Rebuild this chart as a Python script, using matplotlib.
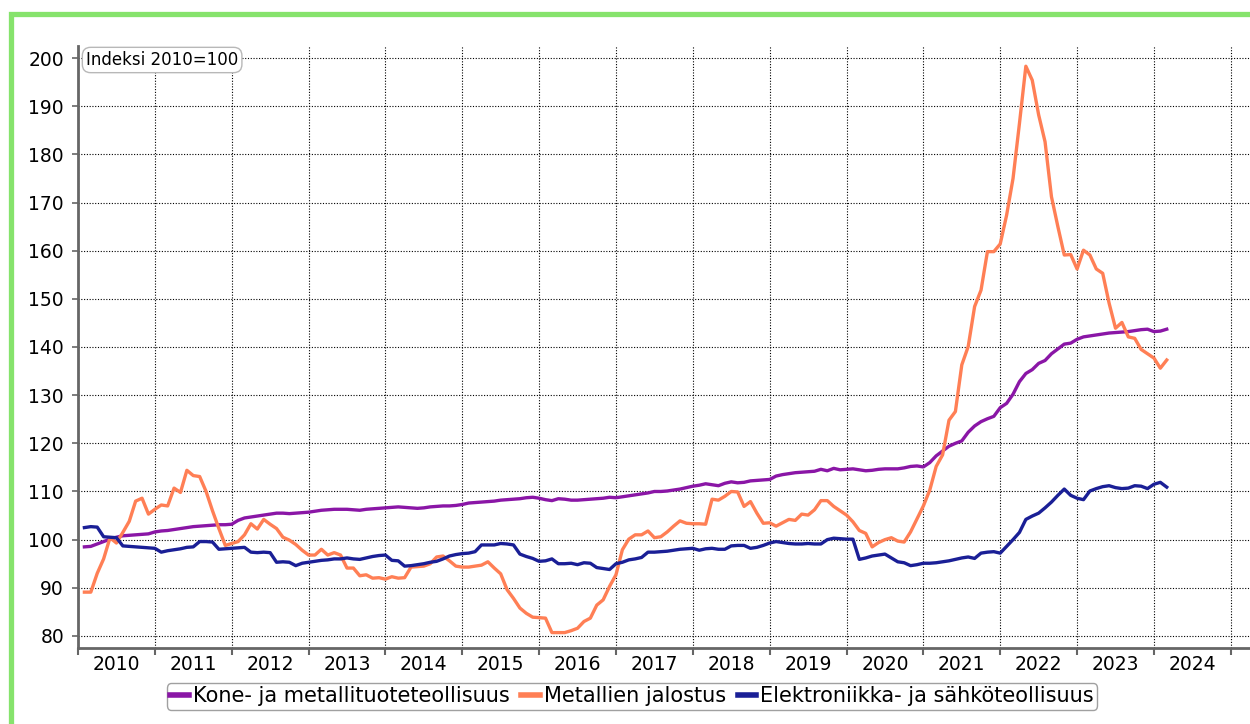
import numpy as np
import matplotlib
matplotlib.use("Agg")
import matplotlib.pyplot as plt
from matplotlib.patches import Rectangle

# monthly index values, Jan 2010 .. Feb 2024 (2010 = 100)
start_year = 2010

kone = [
    98.5, 98.6, 99.1, 99.6, 100.1, 100.5, 100.8, 100.9, 101.0, 101.1, 101.2, 101.6,
    101.8, 101.9, 102.1, 102.3, 102.5, 102.7, 102.8, 102.9, 103.0, 103.1, 103.1, 103.2,
    104.0, 104.5, 104.7, 104.9, 105.1, 105.3, 105.5, 105.5, 105.4, 105.5, 105.6, 105.7,
    105.9, 106.1, 106.2, 106.3, 106.3, 106.3, 106.2, 106.1, 106.3, 106.4, 106.5, 106.6,
    106.7, 106.8, 106.7, 106.6, 106.5, 106.6, 106.8, 106.9, 107.0, 107.0, 107.1, 107.3,
    107.6, 107.7, 107.8, 107.9, 108.0, 108.2, 108.3, 108.4, 108.5, 108.7, 108.8, 108.6,
    108.3, 108.1, 108.5, 108.4, 108.2, 108.2, 108.3, 108.4, 108.5, 108.6, 108.8, 108.7,
    108.9, 109.1, 109.3, 109.5, 109.7, 110.0, 110.0, 110.1, 110.3, 110.5, 110.8, 111.1,
    111.3, 111.6, 111.4, 111.2, 111.7, 112.0, 111.8, 111.9, 112.2, 112.3, 112.4, 112.5,
    113.2, 113.5, 113.7, 113.9, 114.0, 114.1, 114.2, 114.6, 114.3, 114.8, 114.5, 114.6,
    114.7, 114.5, 114.3, 114.4, 114.6, 114.7, 114.7, 114.7, 114.9, 115.2, 115.3, 115.1,
    116.0, 117.4, 118.4, 119.4, 120.0, 120.5, 122.3, 123.6, 124.5, 125.1, 125.6, 127.4,
    128.3, 130.2, 132.8, 134.5, 135.3, 136.6, 137.2, 138.6, 139.6, 140.6, 140.8, 141.6,
    142.1, 142.3, 142.5, 142.7, 142.9, 143.0, 143.1, 143.2, 143.4, 143.6, 143.7, 143.2,
    143.3, 143.7,
]

metallien = [
    89.1, 89.1, 93.0, 96.0, 100.4, 99.3, 101.5, 103.8, 108.0, 108.6, 105.3, 106.3,
    107.2, 107.0, 110.7, 109.8, 114.4, 113.3, 113.1, 110.0, 106.0, 102.3, 98.8, 99.2,
    99.6, 101.0, 103.3, 102.2, 104.2, 103.2, 102.3, 100.5, 99.9, 99.0, 97.8, 96.8,
    96.8, 98.0, 96.8, 97.3, 96.8, 94.1, 94.1, 92.5, 92.7, 92.0, 92.1, 91.8,
    92.3, 92.0, 92.1, 94.3, 94.4, 94.5, 95.0, 96.4, 96.6, 95.6, 94.5, 94.3,
    94.3, 94.5, 94.7, 95.4, 94.1, 92.9, 89.6, 87.8, 85.8, 84.7, 83.9, 83.8,
    83.7, 80.7, 80.7, 80.7, 81.1, 81.6, 83.0, 83.7, 86.4, 87.5, 90.3, 92.7,
    97.9, 100.1, 101.0, 101.0, 101.8, 100.4, 100.6, 101.6, 102.8, 103.9, 103.4, 103.3,
    103.3, 103.2, 108.4, 108.2, 109.0, 110.0, 109.9, 106.9, 107.9, 105.5, 103.4, 103.5,
    102.8, 103.5, 104.2, 104.0, 105.3, 105.1, 106.2, 108.1, 108.1, 106.9, 106.0, 105.1,
    103.7, 101.9, 101.3, 98.5, 99.4, 100.0, 100.4, 99.7, 99.5, 101.6, 104.3, 107.0,
    110.3, 115.2, 117.6, 124.8, 126.6, 136.3, 140.1, 148.4, 151.8, 159.8, 159.8, 161.4,
    167.4, 175.0, 186.4, 198.3, 195.4, 188.2, 182.6, 171.2, 165.0, 159.1, 159.2, 156.2,
    160.1, 159.1, 156.2, 155.3, 149.1, 143.9, 145.1, 142.1, 141.8, 139.5, 138.6, 137.7,
    135.6, 137.3,
]

elektro = [
    102.5, 102.7, 102.6, 100.6, 100.5, 100.4, 98.7, 98.6, 98.5, 98.4, 98.3, 98.2,
    97.4, 97.7, 97.9, 98.1, 98.4, 98.5, 99.6, 99.6, 99.5, 98.0, 98.1, 98.2,
    98.3, 98.4, 97.4, 97.3, 97.4, 97.3, 95.3, 95.4, 95.3, 94.6, 95.1, 95.3,
    95.5, 95.7, 95.8, 96.0, 96.0, 96.2, 96.0, 95.9, 96.2, 96.5, 96.7, 96.8,
    95.7, 95.6, 94.5, 94.6, 94.8, 95.0, 95.3, 95.5, 96.0, 96.6, 96.9, 97.1,
    97.2, 97.5, 98.9, 98.9, 98.9, 99.2, 99.1, 98.9, 97.0, 96.5, 96.1, 95.5,
    95.6, 96.0, 95.0, 95.0, 95.1, 94.8, 95.2, 95.1, 94.2, 94.0, 93.8, 95.0,
    95.3, 95.8, 96.0, 96.3, 97.4, 97.4, 97.5, 97.6, 97.8, 98.0, 98.1, 98.2,
    97.8, 98.1, 98.2, 98.0, 98.0, 98.7, 98.8, 98.8, 98.2, 98.4, 98.8, 99.3,
    99.6, 99.4, 99.2, 99.1, 99.1, 99.2, 99.1, 99.1, 100.0, 100.3, 100.2, 100.1,
    100.1, 95.9, 96.2, 96.6, 96.8, 97.0, 96.2, 95.4, 95.2, 94.6, 94.8, 95.1,
    95.1, 95.2, 95.4, 95.6, 95.9, 96.2, 96.4, 96.1, 97.2, 97.4, 97.5, 97.2,
    98.6, 100.0, 101.5, 104.2, 104.9, 105.5, 106.6, 107.8, 109.2, 110.5, 109.2, 108.6,
    108.3, 110.1, 110.6, 111.0, 111.2, 110.8, 110.6, 110.7, 111.2, 111.1, 110.6, 111.5,
    111.9, 110.9,
]

series_names = ["Kone- ja metallituoteteollisuus", "Metallien jalostus",
                "Elektroniikka- ja sähköteollisuus"]
series_colors = ["#8a16a6", "#ff7f55", "#1a1f96"]
years = list(range(2010, 2025))

W, H = 1250, 724
fig = plt.figure(figsize=(W / 100, H / 100), dpi=100)
fig.patch.set_facecolor("white")

# green frame, only the top and left edges fall inside the picture
fig.patches.append(Rectangle((10.8 / W, -0.2), 2.0, 1.2 - 14.3 / H,
                             transform=fig.transFigure, fill=False,
                             edgecolor="#86e36c", linewidth=3.8, zorder=0))

ax = fig.add_axes([78 / W, 76 / H, 1 - 78 / W, 602 / H])

# month points sit at year + m/12
t = start_year + (np.arange(len(kone)) + 1) / 12.0
for vals, name, col in zip([kone, metallien, elektro], series_names, series_colors):
    ax.plot(t, vals, color=col, linewidth=2.4, label=name, solid_joinstyle="round")

ax.set_xlim(2010, 2025.25)
ax.set_ylim(77.5, 202.5)

ax.set_yticks(range(80, 201, 10))
ax.set_xticks(range(2010, 2026))
ax.set_xticklabels([])
ax.set_xticks([y + 0.5 for y in years], minor=True)
ax.set_xticklabels([str(y) for y in years], minor=True)

ax.tick_params(axis="y", length=4, width=1.2, color="#666666", pad=6,
               labelsize=13.5, labelcolor="black")
ax.tick_params(axis="x", which="major", length=5, width=1.5, color="#666666")
ax.tick_params(axis="x", which="minor", length=0, pad=5, labelsize=13.5)

for side in ["top", "right"]:
    ax.spines[side].set_visible(False)
for side in ["left", "bottom"]:
    ax.spines[side].set_color("#666666")
    ax.spines[side].set_linewidth(2)

ax.grid(True, which="major", color="black", linestyle=(0, (1, 1.5)), linewidth=0.8)
ax.set_axisbelow(True)

fig.text(86 / W, 1 - 60 / H, "Indeksi 2010=100", fontsize=12, va="center", ha="left",
         bbox=dict(boxstyle="round,pad=0.22,rounding_size=0.5", facecolor="white",
                   edgecolor="#b8b8b8", linewidth=1))

fig.legend(loc="center", bbox_to_anchor=(632 / W, 1 - 696.5 / H), ncol=3,
           fontsize=15, handlelength=0.9, handletextpad=0.2, columnspacing=0.55,
           borderpad=0.15, frameon=True, fancybox=True, edgecolor="#a0a0a0",
           framealpha=1)
leg = fig.legends[0]
for line in leg.get_lines():
    line.set_linewidth(4)

fig.savefig("out.png", dpi=100)
